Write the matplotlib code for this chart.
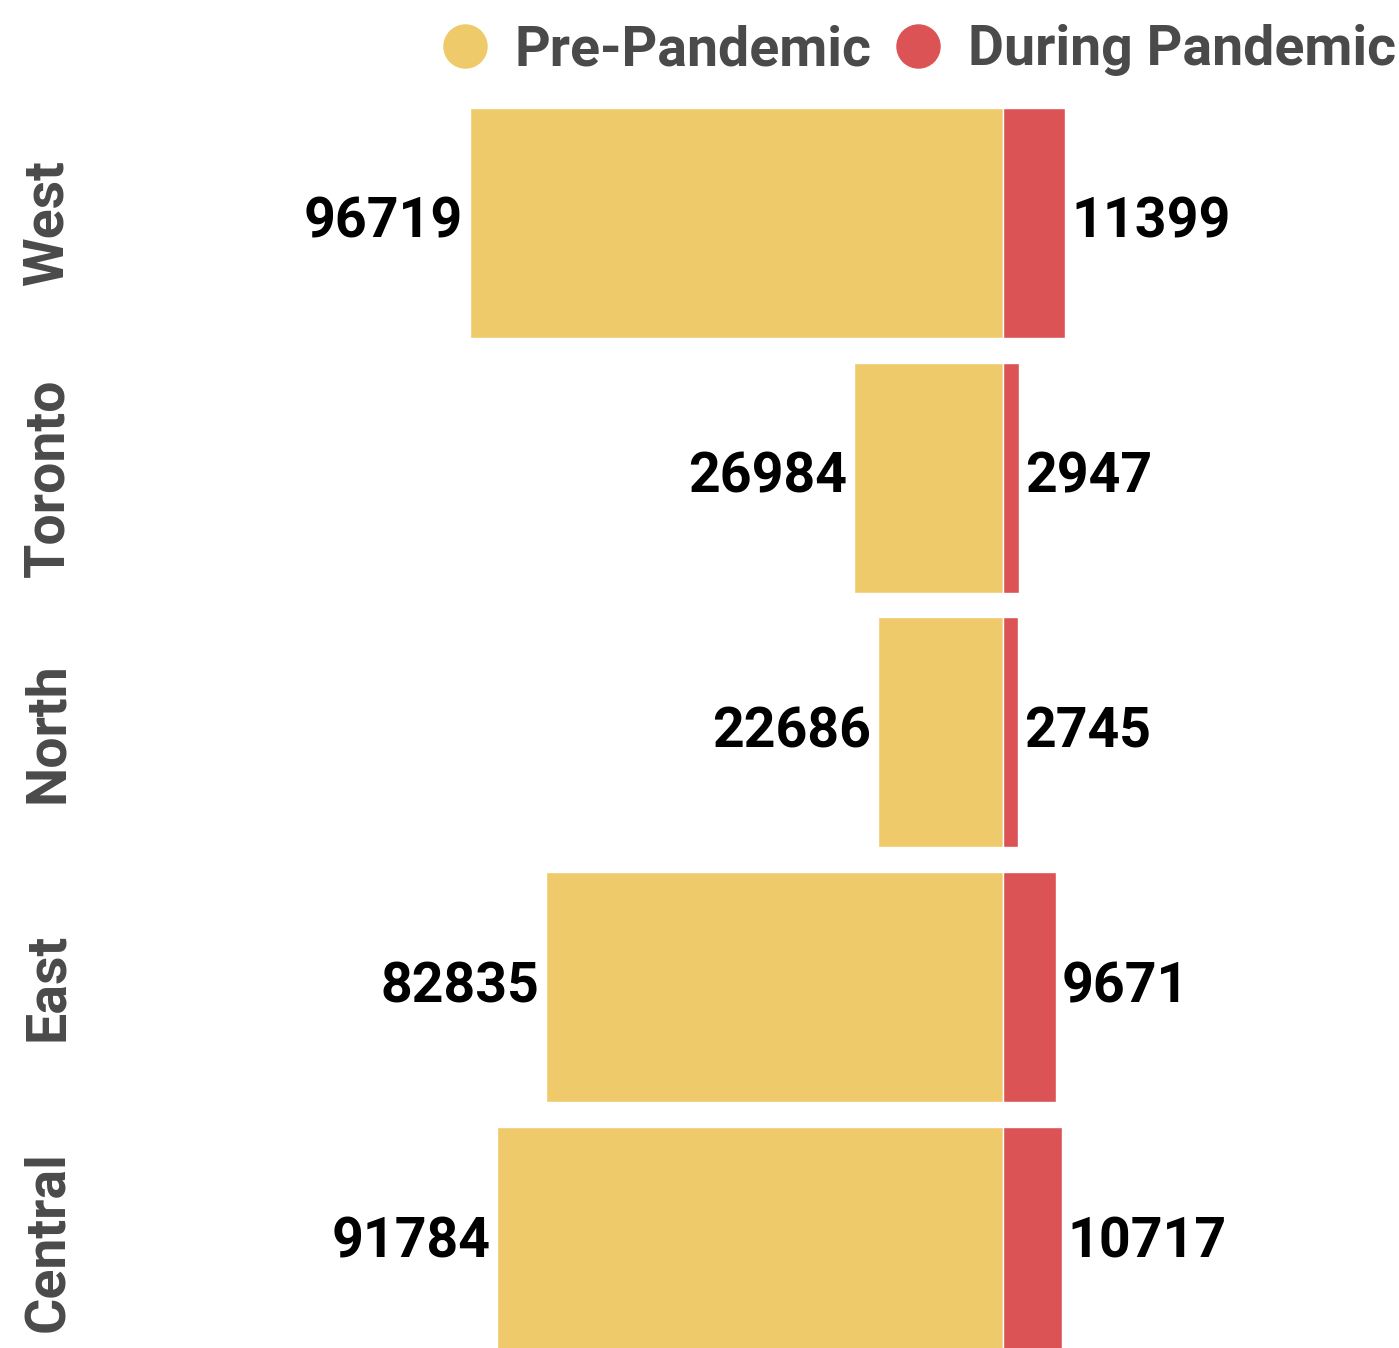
import matplotlib.pyplot as plt
from matplotlib.lines import Line2D
from matplotlib.transforms import blended_transform_factory

regions = ['Central', 'East', 'North', 'Toronto', 'West']
pre_pandemic = [91784, 82835, 22686, 26984, 96719]
during_pandemic = [10717, 9671, 2745, 2947, 11399]

yellow = '#EECA6A'
red = '#DC5355'
grey = '#4A4A4A'

plt.rcParams['font.family'] = ['Roboto', 'DejaVu Sans']

fig = plt.figure(figsize=(13.99, 13.48), dpi=100)
ax = fig.add_axes([0, 0, 1, 1])

pos = list(range(len(regions)))
ax.barh(pos, [-v for v in pre_pandemic], height=0.903, color=yellow,
        edgecolor='white', linewidth=1.0)
ax.barh(pos, during_pandemic, height=0.903, color=red,
        edgecolor='white', linewidth=1.0)

# value labels
for i in pos:
    ax.text(-pre_pandemic[i] - 1200, i, str(pre_pandemic[i]), ha='right', va='center',
            fontsize=40, fontweight='bold', color='black')
    ax.text(during_pandemic[i] + 1100, i, str(during_pandemic[i]), ha='left', va='center',
            fontsize=40, fontweight='bold', color='black')

# region names on the left
trans = blended_transform_factory(ax.transAxes, ax.transData)
for i, name in enumerate(regions):
    ax.text(48 / 1399, i, name, transform=trans, rotation=90, ha='center', va='center',
            fontsize=40, fontweight='bold', color=grey)

ax.set_xlim(-182054, 72004)
ax.set_ylim(-0.416, 4.875)
ax.axis('off')

handles = [
    Line2D([], [], marker='o', linestyle='none', markersize=31, color=yellow, label='Pre-Pandemic'),
    Line2D([], [], marker='o', linestyle='none', markersize=31, color=red, label='During Pandemic'),
]
leg = fig.legend(handles=handles, loc='upper right', bbox_to_anchor=(1.034, 1.019), ncol=2,
                 frameon=False, handletextpad=0.4, columnspacing=0.34, handlelength=1.0,
                 prop={'family': 'Roboto', 'weight': 'bold', 'size': 40})
for t in leg.get_texts():
    t.set_color(grey)

fig.savefig('out.png', dpi=100)
